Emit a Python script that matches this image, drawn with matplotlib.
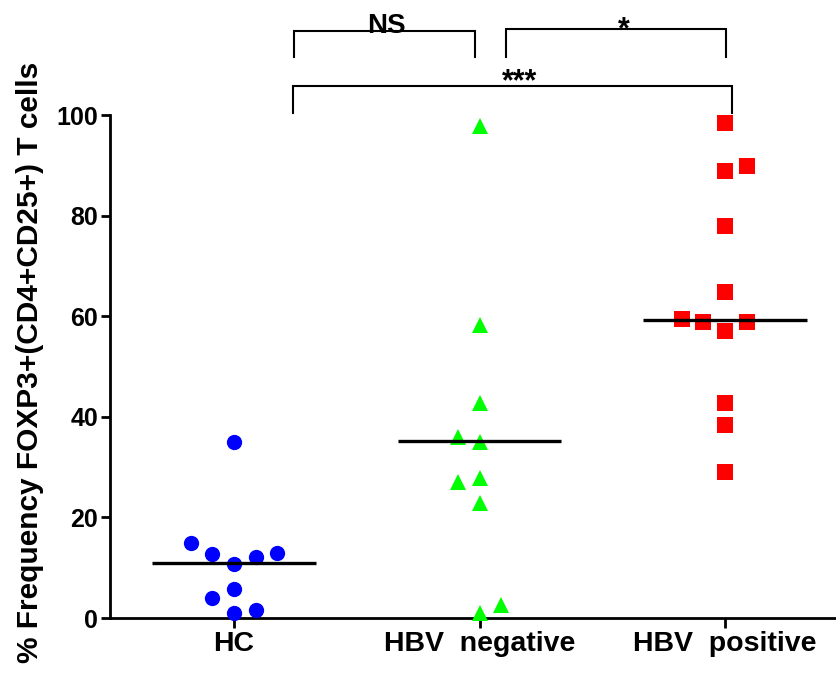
import matplotlib
matplotlib.use("Agg")
import matplotlib.pyplot as plt
import numpy as np

plt.rcParams['font.family'] = ['Liberation Sans', 'DejaVu Sans']
plt.rcParams['font.weight'] = 'bold'

categories = ["HC", "HBV  negative", "HBV  positive"]

# values (% of CD4+CD25+ T cells)
hc_values = [35.0, 15.0, 12.7, 10.7, 12.1, 12.9, 3.9, 5.7, 1.0, 1.6]
hc_offsets = [0, -2, -1, 0, 1, 2, -1, 0, 0, 1]

neg_values = [97.9, 58.3, 42.7, 35.9, 34.9, 27.1, 27.8, 22.9, 1.1, 2.6]
neg_offsets = [0, 0, 0, -1, 0, -1, 0, 0, 0, 1]

pos_values = [98.4, 88.9, 89.9, 77.9, 64.9, 59.4, 58.9, 57.1, 58.9, 42.8, 38.4, 29.1]
pos_offsets = [0, 0, 1, 0, 0, -2, -1, 0, 1, 0, 0, 0]

center_lines = [11.0, 35.1, 59.2]

sig_labels = ["NS", "*", "***"]

fig = plt.figure(figsize=(8.36, 6.77), dpi=100)
ax = fig.add_axes([0.1316, 0.0871, 0.8684, 0.7430])

step = 0.088
series = [
    (hc_values, hc_offsets, 'o', '#0000ff'),
    (neg_values, neg_offsets, '^', '#00ff00'),
    (pos_values, pos_offsets, 's', '#ff0000'),
]
for i, (vals, offs, mk, col) in enumerate(series):
    xs = (i + 1) + np.array(offs) * step
    ax.plot(xs, vals, linestyle='none', marker=mk, markersize=11,
            markerfacecolor=col, markeredgecolor=col, markeredgewidth=0,
            clip_on=False, zorder=3)
    ax.plot([i + 1 - 0.333, i + 1 + 0.333], [center_lines[i]] * 2,
            color='black', lw=2.4, zorder=4, solid_capstyle='butt')

ax.set_xlim(0.495, 3.452)
ax.set_ylim(0, 100)
ax.set_xticks([1, 2, 3])
ax.set_xticklabels(categories, fontsize=20.5, fontweight='bold')
ax.set_yticks([0, 20, 40, 60, 80, 100])
ax.set_yticklabels(['0', '20', '40', '60', '80', '100'], fontsize=18, fontweight='bold')
ax.tick_params(axis='y', length=6.2, width=2, pad=2.5, direction='out')
ax.tick_params(axis='x', length=7.5, width=2, pad=2, direction='out')

for s in ['top', 'right']:
    ax.spines[s].set_visible(False)
for s in ['left', 'bottom']:
    ax.spines[s].set_linewidth(2)

# significance brackets
brackets = [
    (1.2456, 1.983, 116.7, 111.5),
    (2.109, 3.004, 117.1, 111.5),
    (1.2415, 3.030, 105.8, 100.5),
]
text_pos = [(1.619, 116.4, 20), (2.586, 115.2, 22), (2.163, 105.0, 22)]
for (xl, xr, yt, yb), (tx, ty, fs), lab in zip(brackets, text_pos, sig_labels):
    ax.plot([xl, xl, xr, xr], [yb, yt, yt, yb], color='black', lw=1.5,
            clip_on=False, solid_joinstyle='miter')
    ax.text(tx, ty, lab, ha='center', va='baseline', fontsize=fs,
            fontweight='bold', clip_on=False)

fig.text(30 / 836, 1 - 362 / 677, "% Frequency FOXP3+(CD4+CD25+) T cells",
         rotation=90, ha='center', va='center', fontsize=21.5, fontweight='bold')

fig.savefig("out.png", dpi=100)
